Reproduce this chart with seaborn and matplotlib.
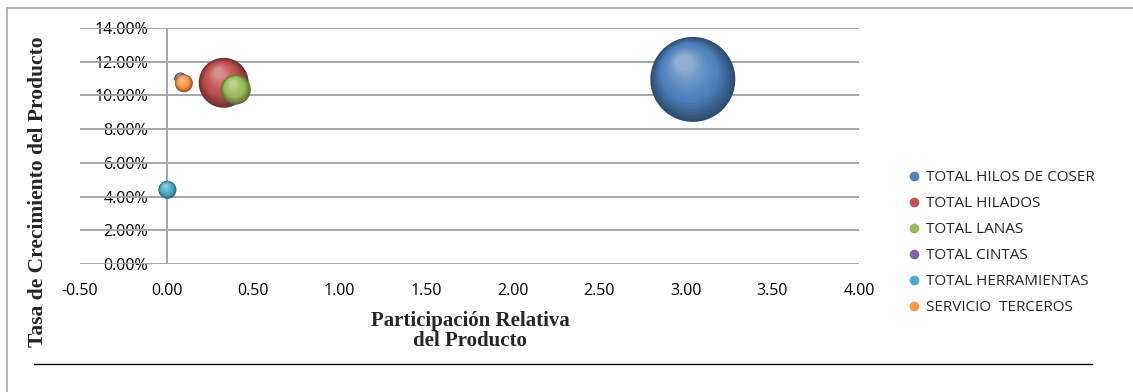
import numpy as np
import pandas as pd
import matplotlib
matplotlib.use("Agg")
import matplotlib.pyplot as plt
import matplotlib.transforms as mtransforms
from matplotlib.lines import Line2D
from matplotlib.colors import to_rgb
import seaborn as sns

# Product portfolio data (BCG-style bubble chart)
categorias = ["TOTAL HILOS DE COSER", "TOTAL HILADOS", "TOTAL LANAS",
              "TOTAL CINTAS", "TOTAL HERRAMIENTAS", "SERVICIO  TERCEROS"]
participacion = [3.04, 0.33, 0.40, 0.08, 0.005, 0.10]          # relative market share
crecimiento = [0.1095, 0.1075, 0.1035, 0.1100, 0.0440, 0.1072]  # growth rate
tamano = [100.0, 34.6, 12.5, 2.0, 4.5, 4.5]                     # bubble size (area)
colores = ["#4F81BD", "#C0504D", "#9BBB59", "#8064A2", "#4BACC6", "#F79646"]

x_ticks = [-0.5, 0.0, 0.5, 1.0, 1.5, 2.0, 2.5, 3.0, 3.5, 4.0]
y_ticks = [0.0, 0.02, 0.04, 0.06, 0.08, 0.10, 0.12, 0.14]

df = pd.DataFrame({"categoria": categorias, "x": participacion,
                   "y": crecimiento, "tamano": tamano})

sns.set_theme(style="white")
plt.rcParams["font.family"] = ["Open Sans", "DejaVu Sans"]

W, H, DPI = 1133, 392, 100
fig = plt.figure(figsize=(W / DPI, H / DPI), dpi=DPI)
ax = fig.add_axes([80 / W, 1 - 264 / H, (859 - 80) / W, (264 - 28) / H])

SMAX = 3745.0  # marker area (pt^2) for the largest bubble
size_norm = (0, max(tamano))


def mix(c, other, t):
    c = np.array(to_rgb(c))
    return tuple(c * (1 - t) + np.array(other) * t)


def shade(base, t):
    """Colour of a sphere layer: dark rim (t=0) to light highlight (t=1)."""
    if t < 0.4:
        return mix(base, (0, 0, 0), 0.40 * (1 - t / 0.4))
    return mix(base, (1, 1, 1), 0.36 * ((t - 0.4) / 0.6) ** 1.4)


# Each bubble is drawn as a shaded sphere: a darker base plus lighter,
# smaller layers shifted towards the upper highlight.
n_layers = 16
for i, row in df.iterrows():
    sub = df.iloc[[i]]
    base = colores[i]
    sns.scatterplot(data=sub, x="x", y="y", hue="categoria", size="tamano",
                    palette={row.categoria: shade(base, 0.0)},
                    sizes=(0, SMAX), size_norm=size_norm, legend=False,
                    edgecolor="none", linewidth=0, ax=ax, zorder=3)
    s_full = SMAX * row.tamano / size_norm[1]
    r_pt = np.sqrt(s_full) / 2
    for k in range(1, n_layers + 1):
        f = 1 - 0.85 * k / (n_layers + 1)
        d = (1 - f) * r_pt / 72.0
        off = mtransforms.ScaledTranslation(-0.25 * d, 0.50 * d,
                                            fig.dpi_scale_trans)
        sns.scatterplot(data=sub, x="x", y="y", hue="categoria", size="tamano",
                        palette={row.categoria: shade(base, k / n_layers)},
                        sizes=(0, SMAX * f * f), size_norm=size_norm,
                        legend=False, edgecolor="none", linewidth=0,
                        ax=ax, zorder=3, transform=ax.transData + off)

ax.set_xlim(-0.5, 4.0)
ax.set_ylim(0, 0.14)
ax.set_xticks(x_ticks)
ax.set_xticklabels([f"{v:.2f}" for v in x_ticks])
ax.set_yticks(y_ticks)
ax.set_yticklabels([f"{v * 100:.2f}%" for v in y_ticks])
ax.set_xlabel("")
ax.set_ylabel("")

for sp in ax.spines.values():
    sp.set_visible(False)
ax.grid(False)
for yv in y_ticks:
    ax.axhline(yv, color="#A6A6A6", lw=1.4, zorder=1)
ax.axvline(0, color="#A6A6A6", lw=1.4, zorder=1)

ax.tick_params(axis="both", length=0, labelsize=11.5, colors="#000000")
ax.tick_params(axis="x", pad=14)
ax.tick_params(axis="y", pad=0)
# y labels sit next to the vertical axis at x = 0
shift_y = mtransforms.ScaledTranslation(68 / DPI, 0, fig.dpi_scale_trans)
for lab in ax.get_yticklabels():
    lab.set_transform(lab.get_transform() + shift_y)

# Axis titles
serif = ["Liberation Serif", "DejaVu Serif"]
fig.text(470 / W, 1 - 331 / H, "Participación Relativa\ndel Producto",
         ha="center", va="center", fontsize=15, fontweight="bold",
         family=serif, linespacing=1.05)
fig.text(38 / W, 1 - 192 / H, "Tasa de Crecimiento del Producto",
         ha="center", va="center", rotation=90, fontsize=15.5,
         fontweight="bold", family=serif)

# Legend
handles = [Line2D([], [], marker="o", ls="none", markersize=7,
                  markerfacecolor=shade(c, 0.45), markeredgecolor="none")
           for c in colores]
fig.legend(handles, categorias, loc="upper left",
           bbox_to_anchor=(906 / W, 1 - 170 / H), frameon=False,
           fontsize=11, handletextpad=0.3, labelspacing=0.72,
           handlelength=1.0, borderaxespad=0, borderpad=0)

# Chart frame and separator rule
fig.add_artist(Line2D([7 / W, 7 / W], [0, 1 - 8 / H], transform=fig.transFigure,
                      color="#A6A6A6", lw=1.2))
fig.add_artist(Line2D([7 / W, 1], [1 - 8 / H, 1 - 8 / H], transform=fig.transFigure,
                      color="#A6A6A6", lw=1.2))
fig.add_artist(Line2D([34 / W, 1092 / W], [1 - 364 / H, 1 - 364 / H],
                      transform=fig.transFigure, color="#000000", lw=1.0))

fig.savefig("out.png", dpi=DPI, facecolor="white")
